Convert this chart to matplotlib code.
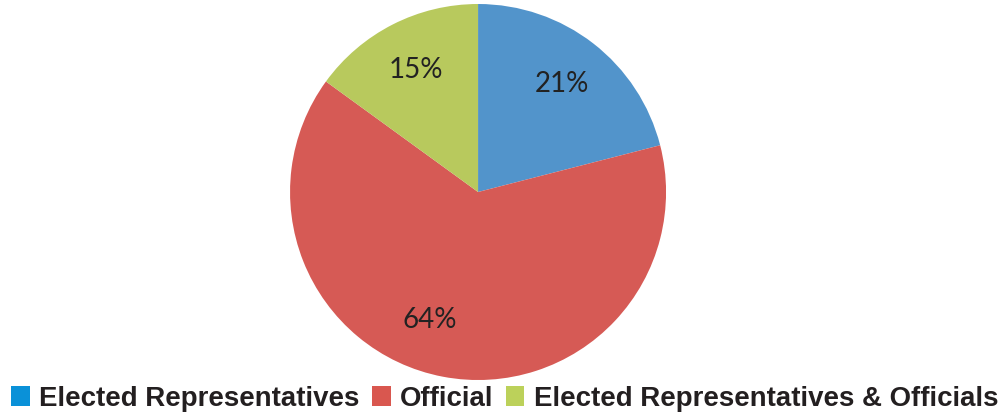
import numpy as np
import matplotlib.pyplot as plt
from matplotlib.patches import Patch

# Datos del gráfico
categorias = ["Elected Representatives", "Official", "Elected Representatives & Officials"]
valores = [21, 64, 15]
colores_pie = ["#5294CB", "#D65A55", "#B8C95D"]
colores_leyenda = ["#0A91D8", "#D9574F", "#BCD15A"]

fig = plt.figure(figsize=(10.06, 4.17), dpi=100)
ax = fig.add_axes([0.2883, 0.0887, 0.3738, 0.9017])

wedges, texts, autotexts = ax.pie(
    valores, colors=colores_pie, startangle=90, counterclock=False,
    autopct="%d%%", pctdistance=0.73, radius=1,
    textprops=dict(family="Lato", fontsize=20, color="#222222"),
)
ax.set_xlim(-1, 1)
ax.set_ylim(-1, 1)
ax.set_aspect("equal")
ax.axis("off")

# Excel coloca la etiqueta de 64% algo más a la izquierda
ang = np.deg2rad(-110.6)
autotexts[1].set_position((0.73 * np.cos(ang), 0.73 * np.sin(ang)))

handles = [Patch(facecolor=c, edgecolor="none") for c in colores_leyenda]
fig.legend(handles, categorias, loc="center", bbox_to_anchor=(0.5015, 0.044),
           ncol=3, frameon=False, handlelength=0.68, handleheight=0.78,
           handletextpad=0.33, columnspacing=0.45, borderpad=0, borderaxespad=0,
           prop=dict(family="Liberation Sans", weight="bold", size=19.9),
           labelcolor="#231F20")

fig.savefig("out.png", dpi=100)
